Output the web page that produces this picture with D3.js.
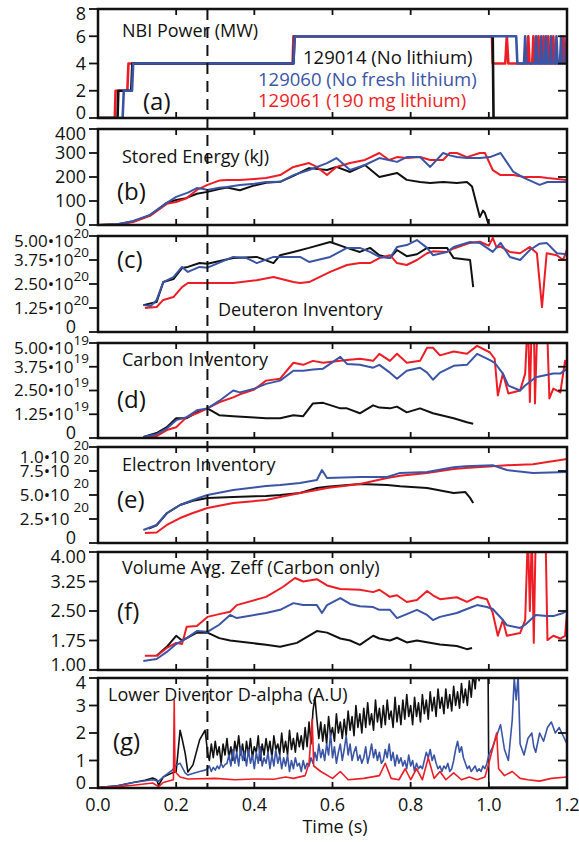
<!DOCTYPE html>
<html>
<head>
<meta charset="utf-8">
<script src="https://cdn.jsdelivr.net/npm/d3@7"></script>
<style>
  body { margin: 0; background: #fff; }
  svg text { font-family: "Open Sans", "Noto Sans", sans-serif; fill: #111; }
</style>
</head>
<body>
<svg id="chart" width="579" height="842"></svg>
<script>
// ---- data: [time (s), value] ----
const nbiBlack = [[0,0],[0.05,0],[0.052,2],[0.085,2],[0.088,4],[0.5,4],[0.503,6],[1.01,6],[1.012,0],[1.2,0]];
const nbiRed = [[0,0],[0.043,0],[0.045,2],[0.075,2],[0.078,4],[0.498,4],[0.5,6],[1.008,6],[1.01,4],
  [1.042,4],[1.046,6],[1.05,4],[1.098,4],[1.101,6],[1.104,4],[1.111,4],[1.114,6],[1.117,4],[1.124,4],[1.127,6],
  [1.13,4],[1.137,4],[1.14,6],[1.143,4],[1.149,4],[1.152,6],[1.155,4],[1.162,4],[1.165,6],[1.168,4],[1.188,4],[1.191,6],[1.194,4],[1.2,4]];
const nbiBlue = [[0,0],[0.063,0],[0.066,2],[0.087,2],[0.09,4],[0.5,4],[0.503,6],[1.07,6],[1.073,4],
  [1.09,4],[1.093,6],[1.096,4],[1.118,4],[1.121,6],[1.124,4],[1.131,4],[1.134,6],[1.137,4],[1.143,4],[1.146,6],
  [1.149,4],[1.156,4],[1.159,6],[1.162,4],[1.17,4],[1.173,6],[1.176,4],[1.182,4],[1.185,6],[1.188,4],[1.196,4],[1.199,6],[1.2,4]];

const weBlack = [[0,0],[0.05,3],[0.09,15],[0.133,40],[0.176,92],[0.2,104],[0.225,112],[0.253,130],[0.28,138],[0.31,150],
  [0.33,156],[0.363,145],[0.4,165],[0.43,176],[0.466,180],[0.5,205],[0.54,237],[0.586,229],[0.61,242],[0.645,221],
  [0.683,250],[0.72,200],[0.765,217],[0.79,188],[0.824,179],[0.85,175],[0.883,179],[0.918,175],[0.944,179],[0.957,160],
  [0.977,33],[0.985,60],[0.99,50],[1.0,0]];
const weBlue = [[0,0],[0.05,3],[0.09,17],[0.133,42],[0.176,92],[0.2,117],[0.23,135],[0.253,154],[0.27,150],[0.28,146],
  [0.31,155],[0.33,158],[0.363,167],[0.4,172],[0.43,179],[0.466,180],[0.5,208],[0.54,229],[0.586,258],[0.61,279],
  [0.645,229],[0.683,250],[0.72,279],[0.765,263],[0.79,283],[0.824,283],[0.85,242],[0.883,300],[0.9,290],[0.918,283],
  [0.944,279],[0.977,279],[1.003,283],[1.03,300],[1.063,221],[1.09,196],[1.13,167],[1.15,179],[1.2,179]];
const weRed = [[0,0],[0.05,2],[0.09,12],[0.133,38],[0.176,88],[0.2,96],[0.225,110],[0.253,146],[0.28,167],[0.31,185],
  [0.33,188],[0.363,188],[0.4,192],[0.43,196],[0.466,208],[0.5,242],[0.54,258],[0.56,242],[0.586,208],[0.61,242],
  [0.645,258],[0.683,271],[0.72,300],[0.745,271],[0.765,283],[0.79,279],[0.824,283],[0.85,271],[0.883,271],[0.9,300],
  [0.918,300],[0.944,283],[0.977,300],[0.99,300],[1.01,229],[1.03,208],[1.063,208],[1.09,200],[1.13,200],[1.15,196],[1.2,188]];

// deuteron inventory, units of 1e20
const deBlack = [[0.116,1.4],[0.15,1.56],[0.167,2.6],[0.193,2.76],[0.215,3.33],[0.23,3.39],[0.26,3.59],[0.28,3.55],
  [0.346,3.85],[0.406,3.91],[0.449,3.59],[0.466,4.0],[0.5,4.17],[0.54,4.38],[0.594,4.69],[0.637,4.38],[0.67,4.17],
  [0.696,4.38],[0.72,4.0],[0.747,3.85],[0.765,4.27],[0.79,3.95],[0.816,4.05],[0.842,4.38],[0.893,4.38],[0.91,3.85],
  [0.952,3.75],[0.96,2.34]];
const deBlue = [[0.116,1.4],[0.135,1.35],[0.15,1.67],[0.167,2.6],[0.193,2.86],[0.215,3.39],[0.23,3.13],[0.26,3.39],
  [0.28,3.35],[0.346,3.91],[0.38,3.85],[0.406,3.59],[0.449,3.91],[0.466,3.91],[0.517,3.91],[0.54,3.65],[0.594,3.91],
  [0.637,4.38],[0.67,4.38],[0.696,4.17],[0.72,3.91],[0.747,3.85],[0.765,4.43],[0.79,4.53],[0.816,4.79],[0.842,4.38],
  [0.857,4.0],[0.893,4.17],[0.91,4.43],[0.952,4.69],[0.977,4.64],[1.01,4.17],[1.03,4.64],[1.054,3.91],[1.08,3.75],
  [1.105,4.27],[1.13,4.6],[1.148,4.64],[1.174,4.1],[1.2,4.05]];
const deRed = [[0.12,1.25],[0.15,1.3],[0.167,1.67],[0.193,1.82],[0.215,2.34],[0.23,2.55],[0.26,2.55],[0.346,2.55],
  [0.406,2.7],[0.449,2.86],[0.5,2.6],[0.517,2.55],[0.54,2.6],[0.594,3.13],[0.637,3.49],[0.67,3.59],[0.696,3.59],
  [0.72,3.85],[0.747,4.0],[0.765,3.59],[0.79,3.49],[0.816,3.75],[0.842,4.1],[0.857,4.2],[0.893,4.17],[0.91,4.35],
  [0.952,4.64],[0.977,4.7],[1.0,4.5],[1.01,4.9],[1.02,4.4],[1.03,4.45],[1.054,4.17],[1.08,4.1],[1.105,4.43],
  [1.123,4.1],[1.136,1.3],[1.148,4.1],[1.174,4.0],[1.19,3.75],[1.2,4.3]];

// carbon inventory, units of 1e19
const caBlack = [[0.116,0.05],[0.15,0.26],[0.176,0.57],[0.2,1.04],[0.227,1.04],[0.253,1.35],[0.28,1.56],[0.31,1.2],
  [0.346,1.15],[0.4,1.08],[0.43,1.04],[0.466,1.04],[0.5,1.2],[0.525,1.15],[0.55,1.82],[0.576,1.85],[0.62,1.56],
  [0.637,1.56],[0.67,1.3],[0.704,1.72],[0.72,1.6],[0.747,1.56],[0.765,1.65],[0.79,1.35],[0.824,1.56],[0.857,1.3],
  [0.91,1.04],[0.944,0.83],[0.96,0.75]];
const caBlue = [[0.116,0.05],[0.15,0.2],[0.176,0.5],[0.2,0.94],[0.227,1.1],[0.253,1.46],[0.28,1.56],[0.31,1.95],
  [0.346,2.5],[0.363,2.4],[0.4,2.6],[0.43,2.85],[0.466,3.02],[0.5,3.54],[0.525,3.54],[0.55,3.6],[0.576,3.65],
  [0.62,4.27],[0.637,3.9],[0.67,3.85],[0.704,3.7],[0.72,3.85],[0.747,3.44],[0.765,3.12],[0.79,3.54],[0.824,3.7],
  [0.842,3.44],[0.857,3.07],[0.875,3.44],[0.91,3.8],[0.944,3.85],[0.97,4.43],[1.003,4.1],[1.015,3.96],[1.036,3.39],
  [1.05,2.76],[1.08,2.5],[1.093,2.76],[1.12,3.2],[1.165,3.39],[1.183,3.39],[1.2,3.65]];
const caRed = [[0.116,0.03],[0.15,0.1],[0.176,0.42],[0.2,0.57],[0.227,1.1],[0.253,1.3],[0.28,1.56],[0.31,1.88],
  [0.346,2.14],[0.363,2.3],[0.4,2.55],[0.43,3.02],[0.466,3.12],[0.5,3.96],[0.525,3.85],[0.55,4.06],[0.576,3.96],
  [0.62,4.06],[0.637,4.1],[0.67,4.17],[0.704,4.06],[0.72,4.43],[0.747,4.06],[0.765,4.43],[0.79,3.96],[0.824,4.06],
  [0.842,4.75],[0.857,4.75],[0.875,4.35],[0.91,4.55],[0.944,4.43],[0.97,4.85],[1.003,4.5],[1.015,4.17],[1.023,2.24],
  [1.036,3.39],[1.05,2.34],[1.08,2.5],[1.093,3.39],[1.1,6.5],[1.105,1.9],[1.11,6.5],[1.115,6.5],[1.118,1.82],
  [1.125,6.5],[1.148,6.5],[1.155,2.08],[1.165,2.6],[1.183,2.4],[1.195,4.06],[1.2,3.8]];

// electron inventory, units of 1e20
const elBlack = [[0.13,1.5],[0.15,1.85],[0.176,3.1],[0.21,3.96],[0.243,4.4],[0.28,4.69],[0.346,4.8],[0.43,4.9],
  [0.466,5.0],[0.517,5.2],[0.56,5.73],[0.586,5.85],[0.67,6.15],[0.74,6.04],[0.773,5.9],[0.842,5.73],[0.91,5.2],
  [0.94,5.3],[0.952,4.7],[0.96,4.17]];
const elBlue = [[0.116,1.35],[0.15,1.88],[0.176,3.1],[0.21,3.96],[0.243,4.48],[0.28,5.0],[0.346,5.52],[0.43,5.94],
  [0.466,6.04],[0.517,6.25],[0.56,6.56],[0.573,7.6],[0.586,6.77],[0.67,6.87],[0.74,6.87],[0.773,7.3],[0.842,7.4],
  [0.91,7.9],[0.94,8.0],[1.01,8.1],[1.046,7.6],[1.113,7.3],[1.2,7.4]];
const elRed = [[0.12,1.04],[0.15,1.1],[0.176,1.88],[0.21,2.6],[0.243,3.13],[0.28,3.65],[0.346,4.17],[0.43,4.48],
  [0.466,4.8],[0.517,5.2],[0.56,5.52],[0.586,5.73],[0.67,6.15],[0.74,6.77],[0.773,7.0],[0.842,7.3],[0.91,7.7],
  [0.94,7.8],[1.01,8.0],[1.046,8.1],[1.113,8.2],[1.2,8.75]];

const zeBlack = [[0.15,1.36],[0.176,1.59],[0.2,1.87],[0.215,1.75],[0.227,1.81],[0.253,1.95],[0.28,1.95],[0.31,1.81],
  [0.338,1.75],[0.43,1.64],[0.466,1.59],[0.509,1.69],[0.56,1.99],[0.586,1.95],[0.62,1.8],[0.645,1.75],[0.67,1.64],
  [0.704,1.87],[0.72,1.8],[0.747,1.75],[0.765,1.82],[0.79,1.7],[0.816,1.75],[0.875,1.65],[0.918,1.61],[0.944,1.53],[0.957,1.56]];
const zeBlue = [[0.116,1.23],[0.15,1.28],[0.176,1.46],[0.2,1.66],[0.227,1.81],[0.253,1.99],[0.28,1.97],[0.31,2.15],
  [0.338,2.4],[0.355,2.32],[0.43,2.45],[0.466,2.53],[0.5,2.7],[0.525,2.65],[0.56,2.65],[0.573,2.45],[0.586,2.65],
  [0.62,2.83],[0.645,2.68],[0.67,2.62],[0.704,2.6],[0.72,2.53],[0.747,2.53],[0.765,2.32],[0.79,2.42],[0.816,2.53],
  [0.842,2.4],[0.857,2.27],[0.875,2.35],[0.918,2.45],[0.944,2.55],[0.97,2.65],[0.995,2.6],[1.01,2.55],[1.036,2.27],
  [1.046,2.14],[1.08,2.07],[1.093,2.15],[1.12,2.4],[1.148,2.37],[1.165,2.37],[1.19,2.45],[1.2,2.5]];
const zeRed = [[0.12,1.36],[0.15,1.36],[0.176,1.56],[0.2,1.69],[0.215,1.66],[0.227,2.1],[0.253,2.12],[0.28,2.35],
  [0.31,2.42],[0.338,2.48],[0.355,2.65],[0.43,2.86],[0.473,3.11],[0.504,3.34],[0.525,3.25],[0.56,3.31],[0.586,3.15],
  [0.62,3.06],[0.67,3.04],[0.704,2.98],[0.72,3.04],[0.747,2.86],[0.765,2.9],[0.79,2.73],[0.816,2.78],[0.842,3.01],
  [0.857,2.9],[0.875,2.8],[0.918,2.85],[0.944,2.73],[0.97,2.86],[0.995,2.8],[1.01,2.45],[1.023,1.87],[1.036,2.27],
  [1.046,1.87],[1.08,1.94],[1.093,2.27],[1.1,4.5],[1.105,2.5],[1.11,4.5],[1.115,1.69],[1.12,4.5],[1.135,4.5],
  [1.145,4.5],[1.15,1.76],[1.165,1.87],[1.183,1.8],[1.195,1.87],[1.2,2.45]];

// D-alpha: early points, then a noisy record sampled every 5 ms from 0.28 s
const daSampleStart = 0.28, daSampleStep = 0.005;
const daBlackEarly = [[0,0.02],[0.05,0.08],[0.09,0.2],[0.12,0.28],[0.14,0.36],[0.15,0.3],[0.155,0.1],[0.167,0.4],
  [0.19,0.55],[0.2,0.6],[0.21,2.1],[0.215,1.8],[0.223,1.27],[0.23,0.58],[0.243,0.84],[0.26,1.75],[0.274,2.1],[0.278,1.6]];
const daBlackNoisy = [
  1.3,1.0,1.6,1.1,1.7,1.2,1.5,0.9,1.6,1.2, 1.8,1.1,1.5,1.0,1.7,1.3,1.9,1.2,1.6,1.0,
  1.7,1.2,1.8,1.1,1.5,1.3,1.9,1.0,1.6,1.2, 1.8,1.3,1.7,1.1,1.9,1.4,1.6,1.2,2.0,1.3,
  1.7,1.2,2.1,1.4,1.8,1.3,2.0,1.5,1.9,1.4, 2.2,1.5,2.4,1.6,2.8,3.3,2.5,1.8,2.4,1.7,
  2.3,1.6,2.6,1.9,2.2,1.7,2.7,2.0,2.4,1.8, 2.5,1.9,2.8,2.1,2.6,1.9,3.0,2.2,2.7,2.0,
  2.9,2.2,3.1,2.3,2.7,2.1,3.2,2.4,2.9,2.2, 3.0,2.3,3.2,2.5,2.8,2.2,3.3,2.4,3.0,2.3,
  3.2,2.5,3.4,2.6,3.0,2.3,3.3,2.6,3.1,2.4, 3.4,2.7,3.2,2.5,3.5,2.8,3.3,2.6,3.6,2.9,
  3.3,2.7,3.6,2.9,3.4,2.8,3.7,3.0,3.5,2.9, 3.8,3.1,3.6,3.0,3.9,3.3,4.2,3.6,4.4,3.9,
  4.5,4.3,4.6,4.4];
const daBlackLate = [[0.998,4.4],[1.0,0.03],[1.2,0.03]];
const daBlueEarly = [[0,0.02],[0.05,0.08],[0.09,0.2],[0.14,0.3],[0.155,0.25],[0.167,0.4],[0.19,0.65],[0.2,0.84],
  [0.21,0.9],[0.223,0.55],[0.23,0.47],[0.26,0.6],[0.274,0.65]];
const daBlueNoisy = [
  0.7,0.8,0.6,0.75,0.65,0.8,0.7,0.9,0.75,0.85, 0.9,1.2,0.8,1.4,0.9,1.3,0.8,1.5,1.0,1.3,
  0.8,1.4,0.9,1.2,0.7,1.3,0.9,1.5,0.8,1.1, 0.9,1.3,0.7,1.2,0.8,1.4,0.9,1.2,0.7,1.1,
  0.8,1.2,0.6,1.0,0.7,1.1,0.8,0.9,0.6,1.0, 0.7,0.9,0.8,1.1,0.9,1.3,1.0,1.6,1.1,1.4,
  1.0,1.6,1.2,2.0,1.1,1.5,0.9,1.3,1.6,1.0, 1.4,1.9,1.2,1.6,1.0,1.3,1.5,1.0,1.2,0.9,
  1.1,1.5,0.9,1.2,1.6,1.1,1.4,1.0,1.3,0.9, 1.0,1.4,1.1,1.6,1.0,1.3,0.8,1.2,0.9,1.1,
  0.8,1.0,0.7,1.2,0.8,1.0,0.6,0.9,0.7,0.8, 0.7,1.0,1.3,1.1,1.4,1.0,1.2,0.9,0.7,0.8,
  0.6,0.8,0.7,0.9,0.6,0.7,1.0,1.4,1.7,1.3, 1.5,1.1,0.9,0.7,0.8,0.6,0.7,0.8,0.6,0.7,
  0.6,0.8,0.7,0.9];
const daBlueLate = [[1.0,1.2],[1.01,1.5],[1.02,1.9],[1.03,2.3],[1.04,1.4],[1.05,1.0],[1.06,2.5],[1.065,4.0],[1.07,3.2],
  [1.075,4.1],[1.08,1.6],[1.09,1.2],[1.1,1.8],[1.11,2.0],[1.115,1.5],[1.12,1.3],[1.13,2.0],[1.14,1.7],[1.15,2.2],
  [1.16,2.4],[1.17,2.0],[1.18,2.2],[1.19,1.9],[1.2,1.6]];
const daRed = [[0,0.02],[0.05,0.05],[0.09,0.1],[0.14,0.18],[0.155,0.05],[0.167,0.2],[0.19,0.29],[0.193,0.3],[0.195,3.2],
  [0.197,0.6],[0.21,0.4],[0.23,0.33],[0.3,0.35],[0.35,0.3],[0.4,0.33],[0.45,0.32],[0.48,0.4],[0.5,0.35],[0.53,0.45],
  [0.54,0.9],[0.548,2.5],[0.552,0.8],[0.57,0.6],[0.6,0.35],[0.62,0.6],[0.64,0.3],[0.68,0.35],[0.72,0.45],[0.735,0.9],
  [0.75,0.35],[0.77,0.3],[0.786,0.7],[0.8,0.3],[0.815,0.7],[0.83,0.3],[0.845,1.1],[0.86,0.35],[0.875,0.6],[0.89,0.3],
  [0.91,0.55],[0.93,0.3],[0.95,0.4],[0.97,0.3],[0.99,0.4],[1.0,0.9],[1.02,2.0],[1.025,0.7],[1.04,0.45],[1.06,0.6],
  [1.08,0.35],[1.1,0.3],[1.13,0.25],[1.16,0.35],[1.2,0.4]];

const timeTicks = [0, 0.2, 0.4, 0.6, 0.8, 1.0, 1.2];
const shotNames = ["129014 (No lithium)", "129060 (No fresh lithium)", "129061 (190 mg lithium)"];
const dashTime = 0.28;

// ---- layout ----
const black = "#111", blue = "#3a55a6", red = "#ee1d25";
const svg = d3.select("#chart");
const x0 = 98, x1 = 567;
const x = d3.scaleLinear().domain([0, 1.2]).range([x0, x1]);

const withSamples = (start, step, vals) => vals.map((v, i) => [start + i * step, v]);
const daBlack = daBlackEarly.concat(withSamples(daSampleStart, daSampleStep, daBlackNoisy), daBlackLate);
const daBlue = daBlueEarly.concat(withSamples(daSampleStart, daSampleStep, daBlueNoisy), daBlueLate);

const panels = [
  { id: "a", top: 9, bottom: 118, domain: [0, 8], ticks: [0, 2, 4, 6, 8], fmt: d => String(d),
    title: "NBI Power (MW)", tx: 122, ty: 31, letterX: 143, letterY: 102,
    series: [[nbiRed, red], [nbiBlack, black], [nbiBlue, blue]], width: 2.6 },
  { id: "b", top: 129, bottom: 225, domain: [0, 400], ticks: [0, 100, 200, 300, 400], fmt: d => String(d),
    title: "Stored Energy (kJ)", tx: 122, ty: 157, letterX: 117, letterY: 192,
    series: [[weBlack, black], [weRed, red], [weBlue, blue]], width: 2 },
  { id: "c", top: 236, bottom: 332, domain: [0, 5], ticks: [0, 1.25, 2.5, 3.75, 5], fmt: d => d3.format(".2f")(d), exp: "20",
    title: "Deuteron Inventory", tx: 218, ty: 310, letterX: 117, letterY: 260,
    series: [[deBlack, black], [deRed, red], [deBlue, blue]], width: 2 },
  { id: "d", top: 343, bottom: 438, domain: [0, 5], ticks: [0, 1.25, 2.5, 3.75, 5], fmt: d => d3.format(".2f")(d), exp: "19",
    title: "Carbon Inventory", tx: 122, ty: 360, letterX: 117, letterY: 400,
    series: [[caBlack, black], [caRed, red], [caBlue, blue]], width: 2 },
  { id: "e", top: 447, bottom: 543, domain: [0, 10], ticks: [0, 2.5, 5, 7.5, 10], exp: "20", spaced: true,
    fmt: d => d === 10 ? "1.0" : d3.format(".1f")(d),
    title: "Electron Inventory", tx: 122, ty: 465, letterX: 117, letterY: 500,
    series: [[elBlack, black], [elRed, red], [elBlue, blue]], width: 2 },
  { id: "f", top: 552, bottom: 670, domain: [1, 4], ticks: [1, 1.75, 2.5, 3.25, 4], fmt: d => d3.format(".2f")(d),
    title: "Volume Avg. Zeff (Carbon only)", tx: 122, ty: 568, letterX: 117, letterY: 612,
    series: [[zeBlack, black], [zeRed, red], [zeBlue, blue]], width: 2 },
  { id: "g", top: 678, bottom: 788, domain: [0, 4], ticks: [0, 1, 2, 3, 4], fmt: d => String(d),
    title: "Lower Divertor D-alpha (A.U)", tx: 108, ty: 695, letterX: 113, letterY: 742,
    series: [[daBlack, black], [daBlue, blue], [daRed, red]], width: 1.6 }
];

panels.forEach(p => {
  const y = d3.scaleLinear().domain(p.domain).range([p.bottom, p.top]);
  const g = svg.append("g").attr("class", "panel-" + p.id);

  g.append("clipPath").attr("id", "clip-" + p.id)
    .append("rect").attr("x", x0).attr("y", p.top).attr("width", x1 - x0).attr("height", p.bottom - p.top);

  const line = d3.line().x(d => x(d[0])).y(d => y(d[1]));
  const lines = g.append("g").attr("clip-path", `url(#clip-${p.id})`);
  p.series.forEach(([data, color]) => {
    lines.append("path").datum(data)
      .attr("d", line)
      .attr("fill", "none")
      .attr("stroke", color)
      .attr("stroke-width", p.width)
      .attr("stroke-linejoin", "round");
  });

  // ticks: left outward, right inward; time ticks inward top and bottom
  const tickG = g.append("g").attr("stroke", black).attr("stroke-width", 1.8);
  p.ticks.forEach(t => {
    tickG.append("line").attr("x1", x0 - 9).attr("x2", x0).attr("y1", y(t)).attr("y2", y(t));
    tickG.append("line").attr("x1", x1 - 9).attr("x2", x1).attr("y1", y(t)).attr("y2", y(t));
  });
  timeTicks.forEach(t => {
    tickG.append("line").attr("x1", x(t)).attr("x2", x(t)).attr("y1", p.top).attr("y2", p.top + 6);
    tickG.append("line").attr("x1", x(t)).attr("x2", x(t)).attr("y1", p.bottom).attr("y2", p.bottom - 6);
  });

  // frame
  g.append("rect").attr("x", x0).attr("y", p.top).attr("width", x1 - x0).attr("height", p.bottom - p.top)
    .attr("fill", "none").attr("stroke", black).attr("stroke-width", 2.5);

  // y tick labels
  p.ticks.forEach((t, i) => {
    let ly = y(t);
    if (i === 0) ly -= 5;
    if (i === p.ticks.length - 1) ly += (p.spaced ? 10 : 5);
    if (!p.exp || t === 0) {
      g.append("text").attr("x", p.exp ? 76 : 86).attr("y", ly).attr("dy", "0.35em")
        .attr("text-anchor", "end").style("font-size", "18px").text(p.exp ? "0" : p.fmt(t));
    } else {
      const txt = g.append("text").attr("x", 89).attr("y", ly).attr("dy", "0.35em")
        .attr("text-anchor", "end").style("font-size", "17px");
      txt.append("tspan").text(p.fmt(t) + "\u202210");
      txt.append("tspan").attr("dy", p.spaced ? "-0.95em" : "-0.7em").attr("dx", p.spaced ? "4" : "0")
        .style("font-size", "13.5px").text(p.exp);
    }
  });

  g.append("text").attr("x", p.tx).attr("y", p.ty).attr("dy", "0.35em")
    .style("font-size", "18px").text(p.title);
  g.append("text").attr("x", p.letterX).attr("y", p.letterY).attr("dy", "0.35em")
    .style("font-size", "24px").text(`(${p.id})`);
});

// legend in panel (a)
const legendColors = [black, blue, red];
const legendX = [303, 258, 258];
const legendY = [58, 80, 101];
shotNames.forEach((name, i) => {
  svg.append("text").attr("x", legendX[i]).attr("y", legendY[i]).attr("dy", "0.35em")
    .style("font-size", "18.5px").style("fill", legendColors[i]).text(name);
});

// time axis labels
timeTicks.forEach(t => {
  svg.append("text").attr("x", x(t)).attr("y", 805).attr("dy", "0.35em")
    .attr("text-anchor", "middle").style("font-size", "18px").text(d3.format(".1f")(t));
});
svg.append("text").attr("x", 335).attr("y", 827).attr("dy", "0.35em")
  .attr("text-anchor", "middle").style("font-size", "18px").text("Time (s)");

// dashed reference time
svg.append("line")
  .attr("x1", x(dashTime)).attr("x2", x(dashTime))
  .attr("y1", 9).attr("y2", 788)
  .attr("stroke", black).attr("stroke-width", 2)
  .attr("stroke-dasharray", "11,7");
</script>
</body>
</html>
